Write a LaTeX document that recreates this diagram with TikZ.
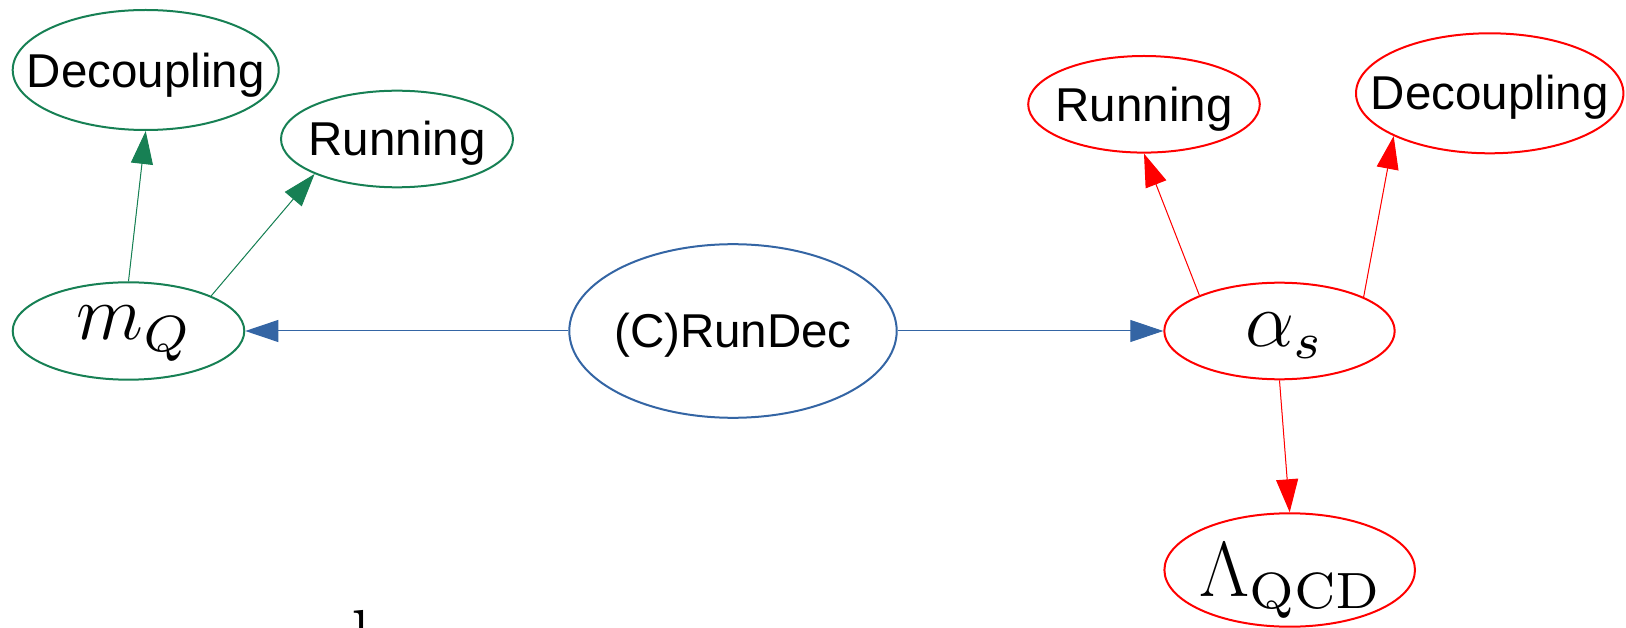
\RequirePackage{fix-cm}
\documentclass[tikz,border=0pt]{standalone}
\usepackage[no-math]{fontspec}
\newfontfamily\arialf{Liberation Sans}
\usetikzlibrary{arrows.meta,shapes.geometric}
\definecolor{gGreen}{RGB}{23,128,84}
\definecolor{gBlue}{RGB}{52,101,164}
\definecolor{gRed}{RGB}{255,0,0}
% subscript fonts with the 7pt design, scaled
\DeclareFontFamily{OT1}{cmrsev}{}
\DeclareFontShape{OT1}{cmrsev}{m}{n}{<->cmr7}{}
\DeclareFontFamily{OML}{cmmsev}{\skewchar\font127 }
\DeclareFontShape{OML}{cmmsev}{m}{it}{<->cmmi7}{}
\DeclareMathAlphabet{\mathrmsev}{OT1}{cmrsev}{m}{n}
\DeclareMathAlphabet{\mathitsev}{OML}{cmmsev}{m}{it}
\DeclareMathSizes{78}{78}{51}{39}
% #1: horizontal shift (twice the wanted shift), #2: drop of baseline below centre, #3: text
\newcommand\ctxt[3][0pt]{\smash{\makebox[0pt]{\hspace*{#1}\raisebox{-#2}{#3}}}}
\newcommand\tfnt{\arialf\fontsize{47.5}{50}\selectfont}
\newcommand\mfnt{\fontsize{78}{90}\selectfont}
\begin{document}
\begin{tikzpicture}[x=1pt,y=-1pt,
  ell/.style={ellipse, draw, line width=2pt, inner sep=0pt},
  arr/.style={line width=1pt, -{Triangle[length=33pt,width=22pt]}},
  greenN/.style={ell, draw=gGreen},
  redN/.style={ell, draw=gRed},
  blueN/.style={ell, draw=gBlue}]
\useasboundingbox (0,0) rectangle (1626,628);
% green side
\node[greenN, minimum width=266pt, minimum height=120pt] (decG) at (145.7,70) {\tfnt\ctxt{18pt}{Decoupling}};
\node[greenN, minimum width=232pt, minimum height=96.6pt] (runG) at (397,139) {\tfnt\ctxt{17pt}{Running}};
\node[greenN, minimum width=231.6pt, minimum height=97.4pt] (mQ) at (128.5,331) {\mfnt\ctxt[9pt]{8.7pt}{$m_{\mathitsev{Q}}$}};
% centre
\node[blueN, minimum width=327.4pt, minimum height=173.6pt] (rd) at (733,331) {\tfnt\ctxt{16.5pt}{(C)RunDec}};
% red side
\node[redN, minimum width=230.4pt, minimum height=96.6pt] (alpha) at (1279.5,331) {\mfnt\ctxt[8pt]{15.7pt}{$\alpha_{\mathitsev{s}}$}};
\node[redN, minimum width=231.6pt, minimum height=96.6pt] (runR) at (1144,104.3) {\tfnt\ctxt{17.4pt}{Running}};
\node[redN, minimum width=267.4pt, minimum height=120pt] (decR) at (1489.7,93.3) {\tfnt\ctxt{16.7pt}{Decoupling}};
\node[redN, minimum width=250.6pt, minimum height=113.4pt] (lam) at (1289.7,570) {\mfnt\ctxt{26.7pt}{$\Lambda_{\mathrmsev{QCD}}$}};
% partial glyph at bottom edge
\node[anchor=base west, inner sep=0pt, font=\mfnt] (dfrag) at (331,664) {d};
% connectors
\draw[arr, draw=gGreen, fill=gGreen] (mQ.north) -- (decG.south);
\draw[arr, draw=gGreen, fill=gGreen] (mQ.23) -- (runG.203);
\draw[arr, draw=gBlue, fill=gBlue] (rd.west) -- (mQ.east);
\draw[arr, draw=gBlue, fill=gBlue] (rd.east) -- (alpha.west);
\draw[arr, draw=gRed, fill=gRed] (alpha.156) -- (runR.south);
\draw[arr, draw=gRed, fill=gRed] (alpha.22.5) -- (decR.204.8);
\draw[arr, draw=gRed, fill=gRed] (alpha.south) -- (lam.north);
\end{tikzpicture}
\end{document}
